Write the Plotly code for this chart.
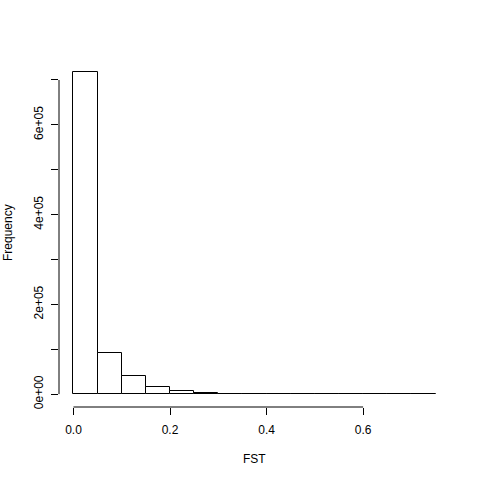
import plotly.graph_objects as go

# Histogram of FST values (bin edges every 0.05 from 0 to 0.75)
bin_edges = [0.00, 0.05, 0.10, 0.15, 0.20, 0.25, 0.30, 0.35, 0.40, 0.45,
             0.50, 0.55, 0.60, 0.65, 0.70, 0.75]
counts = [718000, 91000, 39500, 15500, 6500, 2200, 800, 300, 120, 50,
          25, 12, 6, 3, 2]
x_ticks = [0.0, 0.2, 0.4, 0.6]
y_ticks = [0, 100000, 200000, 300000, 400000, 500000, 600000, 700000]
y_ticktext = ["0e+00", "", "2e+05", "", "4e+05", "", "6e+05", ""]
x_title = "FST"
y_title = "Frequency"

centers = [(a + b) / 2 for a, b in zip(bin_edges[:-1], bin_edges[1:])]
widths = [b - a for a, b in zip(bin_edges[:-1], bin_edges[1:])]

FONT = "Liberation Sans, Arial, Helvetica, sans-serif"

fig = go.Figure()
fig.add_trace(go.Bar(
    x=centers, y=counts, width=widths,
    marker=dict(color="white", line=dict(color="black", width=1)),
    hovertemplate="FST %{x}<br>Frequency %{y}<extra></extra>",
))

xmin, xmax = bin_edges[0], bin_edges[-1]
xr = (xmax - xmin) * 0.04
ymax = max(counts)
yr = ymax * 0.04

fig.update_layout(
    width=480, height=480,
    margin=dict(l=59, r=30, t=59, b=73),
    paper_bgcolor="white", plot_bgcolor="white",
    font=dict(family=FONT, size=12, color="black"),
    showlegend=False,
    bargap=0,
    xaxis=dict(
        range=[xmin - xr, xmax + xr], showgrid=False, zeroline=False,
        showline=False, tickvals=x_ticks, tickformat=".1f",
        ticks="outside", ticklen=7, tickcolor="black", tickwidth=1,
        tickfont=dict(color="black"),
        ticklabelstandoff=5,
        automargin=False,
    ),
    yaxis=dict(
        range=[-yr, ymax + yr], showgrid=False, zeroline=False,
        showline=False, tickvals=y_ticks, ticktext=y_ticktext,
        tickangle=-90,
        ticks="outside", ticklen=7, tickcolor="black", tickwidth=1,
        tickfont=dict(color="black"),
        ticklabelstandoff=3,
        automargin=False,
    ),
)

# axis titles placed as in R (mgp line 3)
fig.add_annotation(text=x_title, xref="paper", yref="paper", x=0.5, y=0,
                   xanchor="center", yanchor="middle", yshift=-52,
                   showarrow=False, font=dict(size=12, color="black"))
fig.add_annotation(text=y_title, xref="paper", yref="paper", x=0, y=0.5,
                   xanchor="center", yanchor="middle", xshift=-51,
                   textangle=-90, showarrow=False,
                   font=dict(size=12, color="black"))

# R-style axis lines spanning only the tick range
fig.add_shape(type="line", xref="x", yref="paper", x0=x_ticks[0], x1=x_ticks[-1],
              y0=0, y1=0, line=dict(color="black", width=1))
fig.add_shape(type="line", xref="paper", yref="y", x0=0, x1=0,
              y0=y_ticks[0], y1=y_ticks[-1], line=dict(color="black", width=1))

fig.write_html("out.html", config={"displayModeBar": False},
               post_script="document.body.style.margin='0';")
